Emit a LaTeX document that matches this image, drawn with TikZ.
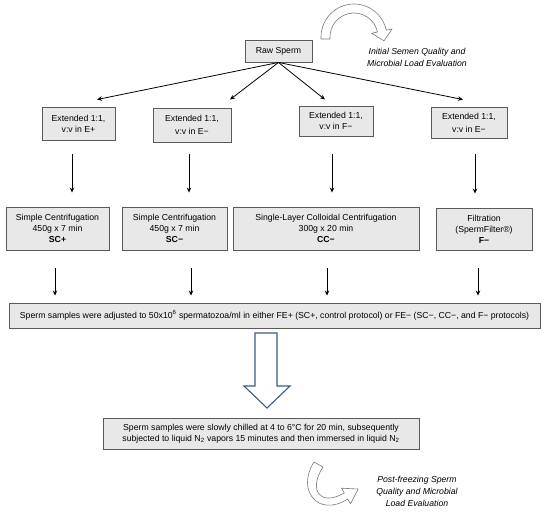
\documentclass[tikz,border=0pt]{standalone}
\usepackage{fontspec}
\setmainfont{Liberation Sans}
\usetikzlibrary{arrows.meta,calc}
\definecolor{boxfill}{HTML}{E8E8E8}
\definecolor{boxline}{HTML}{5A5A5A}
\definecolor{bigarrow}{HTML}{3A5A88}
\definecolor{curvy}{HTML}{7A7A7A}
\begin{document}
\begin{tikzpicture}[x=1pt,y=1pt,
  box/.style={draw=boxline, fill=boxfill, line width=0.9pt, align=center, inner sep=0pt, font=\fontsize{8.7}{11}\selectfont},
  boxwide/.style={box, font=\fontsize{8.7}{13}\selectfont},
  conn/.style={-{Stealth[length=5pt,width=4.5pt]}, line width=0.8pt},
  note/.style={align=center, font=\fontsize{8.7}{11.5}\selectfont\itshape},
  curvyarrow/.style={draw=curvy, fill=white, line width=0.6pt, line join=round}]
\useasboundingbox (0,0) rectangle (550,-517);

% top
\node[box, minimum width=67, minimum height=22] (raw) at (278.5,-51) {Raw Sperm};
\draw[curvyarrow] (321,-39) -- (321,-37) arc[start angle=180,end angle=12,radius=33]
  -- (392.1,-28.9) -- (384,-40.9) -- (371.6,-33.3)
  -- ($(354,-37)+(12:24)$) arc[start angle=12,end angle=180,radius=24] -- (330,-39) -- cycle;
\node[note] (n1) at (417,-57.5) {Initial Semen Quality and\\Microbial Load Evaluation};

% extension boxes
\node[box, minimum width=73, minimum height=33] (e1) at (78.5,-123.5) {Extended 1:1,\\v:v in E+};
\node[boxwide, minimum width=78, minimum height=34] (e2) at (192,-125) {Extended 1:1,\\v:v in E−};
\node[box, minimum width=74, minimum height=30] (e3) at (336,-121) {Extended 1:1,\\v:v in F−};
\node[boxwide, minimum width=76, minimum height=31] (e4) at (469,-122.5) {Extended 1:1,\\v:v in E−};

\draw[conn] (raw.south) -- ($(e1.north)+(18.5,7)$);
\draw[conn] (raw.south) -- ($(e2.north)+(38,8)$);
\draw[conn] (raw.south) -- ($(e3.north)+(-11,6)$);
\draw[conn] (raw.south) -- ($(e4.north)+(-6,7)$);

% processing boxes
\node[box, minimum width=103, minimum height=43] (s1) at (57.5,-228.5) {Simple Centrifugation\\450g x 7 min\\\textbf{SC+}};
\node[box, minimum width=105, minimum height=43] (s2) at (174.5,-228.5) {Simple Centrifugation\\450g x 7 min\\\textbf{SC−}};
\node[box, minimum width=186, minimum height=43] (s3) at (326,-228.5) {Single-Layer Colloidal Centrifugation\\300g x 20 min\\\textbf{CC−}};
\node[box, minimum width=96, minimum height=42] (s4) at (484,-229) {Filtration\\(SpermFilter®)\\\textbf{F−}};

\draw[conn] ($(e1.south)+(-6.5,-14)$) -- ($(s1.north)+(14.5,14)$);
\draw[conn] ($(e2.south)+(-3,-12)$) -- ($(s2.north)+(14.5,14)$);
\draw[conn] ($(e3.south)+(-4,-18)$) -- ($(s3.north)+(6,14)$);
\draw[conn] ($(e4.south)+(6,-16)$) -- ($(s4.north)+(-9,14)$);

% adjustment box
\node[box, minimum width=531, minimum height=25] (adj) at (274.5,-315.5) {Sperm samples were adjusted to 50x10\textsuperscript{6} spermatozoa/ml in either FE+ (SC+, control protocol) or FE− (SC−, CC−, and F− protocols)};

\draw[conn] ($(s1.south)+(-2.5,-18)$) -- ($(adj.north)+(-219.5,7)$);
\draw[conn] ($(s2.south)+(16.5,-18)$) -- ($(adj.north)+(-83.5,7)$);
\draw[conn] ($(s3.south)+(1,-18)$) -- ($(adj.north)+(52.5,7)$);
\draw[conn] ($(s4.south)+(-6,-18)$) -- ($(adj.north)+(203.5,7)$);

% big hollow arrow
\draw[draw=bigarrow, fill=white, line width=1.1pt, line join=miter]
  (255,-333) -- (277,-333) -- (277,-386) -- (290,-386) -- (267,-408) -- (244,-386) -- (255,-386) -- cycle;

% freezing box
\node[box, minimum width=316, minimum height=31, font=\fontsize{8.7}{10.5}\selectfont] (frz) at (261,-433.5) {Sperm samples were slowly chilled at 4 to 6°C for 20 min, subsequently\\subjected to liquid N\textsubscript{2} vapors 15 minutes and then immersed in liquid N\textsubscript{2}};

% bottom curved arrow
\draw[curvyarrow] (314,-462) -- (323,-467) .. controls (308,-490) and (320,-507) .. (344.25,-493)
  -- (341.5,-488.2) -- (358.2,-489) -- (350.5,-503.8) -- (347.75,-499)
  .. controls (318,-518) and (296,-490) .. (314,-462) -- cycle;
\node[note, font=\fontsize{8.7}{12}\selectfont\itshape] (n2) at (417,-491) {Post-freezing Sperm\\Quality and Microbial\\Load Evaluation};
\end{tikzpicture}
\end{document}
